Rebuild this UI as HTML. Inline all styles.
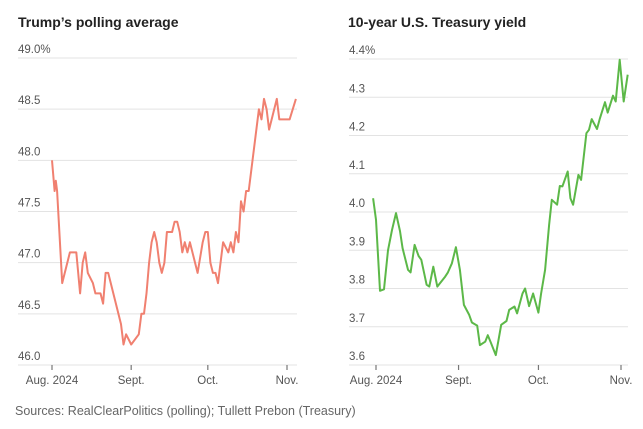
<!DOCTYPE html>
<html><head><meta charset="utf-8"><style>
body{margin:0;background:#fff;width:643px;height:429px;overflow:hidden;font-family:"Liberation Sans",sans-serif}
svg{display:block}
</style></head><body>
<svg id="c" width="643" height="429">
<text x="18" y="27" font-size="14" font-weight="bold" fill="#222">Trump’s polling average</text>
<text x="348" y="27" font-size="14" font-weight="bold" fill="#222">10-year U.S. Treasury yield</text>
<text x="15" y="415" font-size="12.5" fill="#666">Sources: RealClearPolitics (polling); Tullett Prebon (Treasury)</text>
</svg>
<script>
const pollDays=[0,1,1.5,2,4,7,9.5,11,12,13,14,16,17,19,20,21,22,27,28,29,31,34,35,36,37,38,39,40,41,42,43,44,45,47,48,49,50,51,52,53,54,57,59,60,61,62,63,64,65,67,69,70,71,72,73,74,75,76,77,81,82,83,84,85,88,89,93,95.5];
const pollValues=[48.0,47.7,47.8,47.7,46.8,47.1,47.1,46.7,47.0,47.1,46.9,46.8,46.7,46.7,46.6,46.9,46.9,46.4,46.2,46.3,46.2,46.3,46.5,46.5,46.7,47.0,47.2,47.3,47.2,47.0,46.9,47.0,47.3,47.3,47.4,47.4,47.3,47.1,47.2,47.1,47.2,46.9,47.2,47.3,47.3,47.0,46.9,46.9,46.8,47.2,47.1,47.2,47.1,47.3,47.2,47.6,47.5,47.7,47.7,48.5,48.4,48.6,48.5,48.3,48.6,48.4,48.4,48.6];
const pollTicks=[46.0,46.5,47.0,47.5,48.0,48.5,49.0];
const pollTickLabels=["46.0","46.5","47.0","47.5","48.0","48.5","49.0%"];
const yieldDays=[-1.1,0,1.5,3,4.5,6,7.5,9,10,12,13,14.5,16,17,19,20,21.5,23,26,27,28.5,30,31.5,33,35,36,38,39,41,42,43,45,46,47,49,50,52,53,55,56,57.5,59,61,62,63.5,65,66,68,69,70,72,73,74,76,77,79,80,81,83,84,86,87,89,90,91.5,93,94.5];
const yieldValues=[4.036,3.98,3.794,3.798,3.90,3.953,3.997,3.95,3.905,3.849,3.842,3.914,3.885,3.875,3.81,3.805,3.857,3.805,3.831,3.842,3.866,3.908,3.849,3.757,3.731,3.711,3.703,3.652,3.661,3.678,3.661,3.626,3.665,3.705,3.715,3.744,3.753,3.735,3.787,3.80,3.754,3.787,3.737,3.787,3.849,3.966,4.032,4.019,4.068,4.067,4.106,4.036,4.019,4.097,4.084,4.206,4.215,4.243,4.217,4.243,4.287,4.26,4.304,4.289,4.398,4.289,4.359];
const yieldTicks=[3.6,3.7,3.8,3.9,4.0,4.1,4.2,4.3,4.4];
const yieldTickLabels=["3.6","3.7","3.8","3.9","4.0","4.1","4.2","4.3","4.4%"];
const monthDays=[0,31,61,92];
const monthLabels=["Aug. 2024","Sept.","Oct.","Nov."];

const NS="http://www.w3.org/2000/svg";
const svg=document.getElementById('c');
function mk(t,a){const e=document.createElementNS(NS,t);for(const k in a)e.setAttribute(k,a[k]);svg.appendChild(e);return e;}

function panel(cfg){
  const x=d=>cfg.x0+d*(cfg.x1-cfg.x0)/92;
  const y=v=>cfg.yb+(v-cfg.vmin)*(cfg.yt-cfg.yb)/(cfg.vmax-cfg.vmin);
  cfg.ticks.forEach((t,i)=>{
    const g=mk('line',{x1:cfg.gl,x2:cfg.gr,y1:y(t),y2:y(t),stroke:'#e3e3e3','stroke-width':1});
    
    
    const tx=mk('text',{x:cfg.gl,y:y(t)-5,'font-size':11.5,fill:'#555'});
    tx.textContent=cfg.labels[i];
    
    
  });
  monthDays.forEach((d,i)=>{
    const tk=mk('line',{x1:x(d),x2:x(d),y1:cfg.yb,y2:cfg.yb+5,stroke:'#777','stroke-width':1.2});
    
    
    const tx=mk('text',{x:x(d),y:cfg.yb+19,'font-size':11.5,fill:'#555','text-anchor':'middle'});
    tx.textContent=monthLabels[i];
    
    
  });
  const pts=cfg.days.map((d,i)=>x(d).toFixed(1)+','+y(cfg.vals[i]).toFixed(1)).join(' ');
  const l=mk('polyline',{points:pts,fill:'none',stroke:cfg.color,'stroke-width':2,'stroke-linejoin':'round'});
  
  
}
panel({p:'polling',x0:52,x1:287,gl:18,gr:297,yb:365,yt:58,vmin:46,vmax:49,ticks:pollTicks,labels:pollTickLabels,days:pollDays,vals:pollValues,color:'#f08070'});
panel({p:'treasury',x0:376,x1:621,gl:349,gr:628,yb:365,yt:59,vmin:3.6,vmax:4.4,ticks:yieldTicks,labels:yieldTickLabels,days:yieldDays,vals:yieldValues,color:'#5cb848'});
</script>
</body></html>
